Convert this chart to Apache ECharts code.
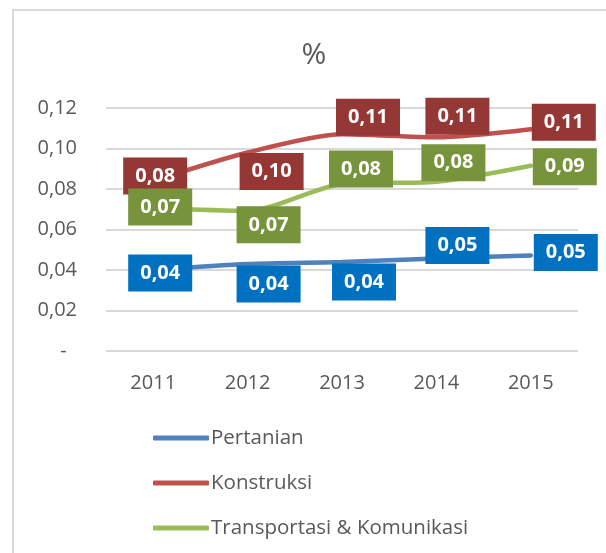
<!DOCTYPE html>
<html>
<head>
<meta charset="utf-8">
<script src="https://cdn.jsdelivr.net/npm/echarts@6/dist/echarts.min.js"></script>
<style>
  html, body { margin: 0; padding: 0; background: #fff; }
  #chart { width: 606px; height: 553px; }
</style>
</head>
<body>
<div id="chart"></div>
<script>
// Data
const years = ['2011', '2012', '2013', '2014', '2015'];
const pertanian = [0.040, 0.043, 0.044, 0.0457, 0.0472];
const konstruksi = [0.084, 0.098, 0.107, 0.1055, 0.1095];
const transportasi = [0.0706, 0.0692, 0.0825, 0.0836, 0.0915];
const seriesNames = ['Pertanian', 'Konstruksi', 'Transportasi & Komunikasi'];

// Label box offsets from each point (px)
const pertanianOffsets = [[7, 3], [21, 20], [22, 20], [21, -13], [35, -3]];
const konstruksiOffsets = [[2, -5], [24, 19], [26, -17], [21, -21], [33, -7]];
const transportasiOffsets = [[7, -1], [21, 14], [19, -15], [17, -19], [34, 1]];

const FONT = '"Open Sans", "Noto Sans", sans-serif';
const TEXT_COLOR = '#595959';
const GRID_COLOR = '#d9d9d9';

const comma = v => v.toFixed(2).replace('.', ',');

function buildSeries(name, values, offsets, lineColor, boxColor) {
	return {
		name: name,
		type: 'line',
		smooth: 0.25,
		symbol: 'circle',
		symbolSize: 1,
		showSymbol: true,
		color: lineColor,
		lineStyle: { color: lineColor, width: 4.5, cap: 'round' },
		itemStyle: { color: lineColor },
		data: values.map((v, i) => ({
			value: v,
			label: { offset: offsets[i] }
		})),
		label: {
			show: true,
			position: 'inside',
			formatter: p => comma(p.value),
			color: '#fff',
			fontFamily: FONT,
			fontWeight: 'bold',
			fontSize: 20,
			lineHeight: 22,
			backgroundColor: boxColor,
			padding: [8, 12, 7, 12]
		},
		emphasis: { disabled: true },
		z: 2
	};
}

const chart = echarts.init(document.getElementById('chart'), null, { renderer: 'canvas' });

chart.setOption({
	animation: false,
	backgroundColor: '#fff',
	graphic: [{
		type: 'rect',
		shape: { x: 13, y: 10, width: 800, height: 800 },
		style: { fill: 'none', stroke: GRID_COLOR, lineWidth: 2 },
		silent: true,
		z: -10
	}],
	title: {
		text: '%',
		left: 309,
		top: 35,
		textAlign: 'center',
		textStyle: { fontFamily: FONT, fontSize: 30, fontWeight: 'normal', color: TEXT_COLOR }
	},
	grid: {
		left: 106,
		right: 28,
		top: 108,
		bottom: 202,
		containLabel: false
	},
	xAxis: {
		type: 'category',
		data: years,
		boundaryGap: true,
		axisLine: { show: false },
		axisTick: { show: false },
		axisLabel: {
			margin: 22,
			fontFamily: FONT,
			fontSize: 20,
			color: TEXT_COLOR
		}
	},
	yAxis: {
		type: 'value',
		min: 0,
		max: 0.12,
		interval: 0.02,
		axisLine: { show: false },
		axisTick: { show: false },
		splitLine: { lineStyle: { color: GRID_COLOR, width: 2 } },
		axisLabel: {
			margin: 29,
			fontFamily: FONT,
			fontSize: 20,
			color: TEXT_COLOR,
			formatter: v => v === 0 ? '-\u00a0\u00a0' : comma(v)
		}
	},
	legend: {
		orient: 'vertical',
		left: 153,
		top: 426,
		padding: 0,
		itemWidth: 56,
		itemHeight: 5,
		itemGap: 21,
		icon: 'roundRect',
		data: seriesNames,
		textStyle: {
			fontFamily: FONT,
			fontSize: 20.5,
			lineHeight: 24,
			color: TEXT_COLOR,
			padding: [0, 0, 0, -3]
		}
	},
	series: [
		buildSeries(seriesNames[0], pertanian, pertanianOffsets, '#4f81bd', '#0070c0'),
		buildSeries(seriesNames[1], konstruksi, konstruksiOffsets, '#c0504d', '#953735'),
		buildSeries(seriesNames[2], transportasi, transportasiOffsets, '#9bbb59', '#77933c')
	]
});
</script>
</body>
</html>
